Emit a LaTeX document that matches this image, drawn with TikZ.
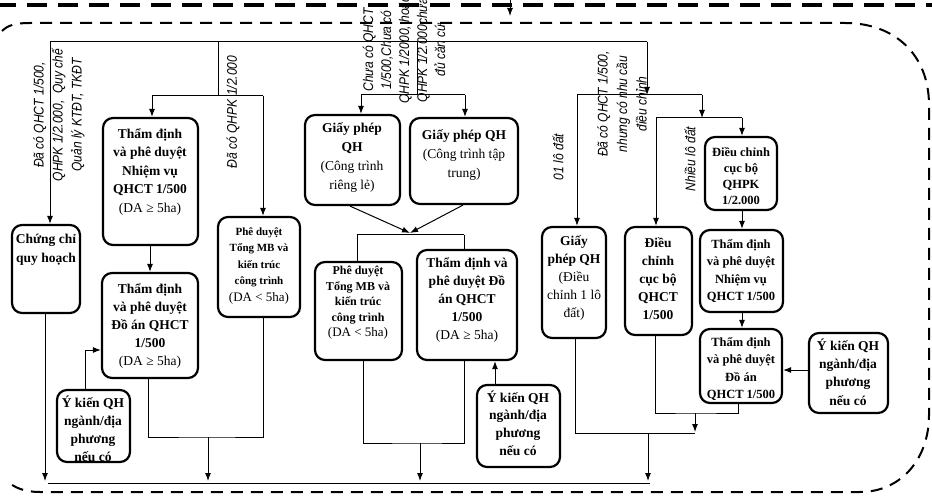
\documentclass[tikz,border=0pt]{standalone}
\usepackage{fontspec}
\setmainfont{Liberation Serif}
\setsansfont{Liberation Sans}
\newfontfamily\labfont[FakeStretch=0.86]{Liberation Sans}
\usetikzlibrary{arrows.meta,fit}
\begin{document}
\begin{tikzpicture}[x=1pt,y=-1pt]
\tikzset{
  box/.style={draw, line width=2.2pt, rounded corners=10pt, inner sep=0pt},
  conn/.style={line width=1pt},
  arr/.style={conn, -{Latex[length=8pt,width=6pt]}},
  tx/.style={align=center, inner sep=0pt},
  big/.style={tx, font=\fontsize{13.5}{18.5}\selectfont\bfseries},
  mid/.style={tx, font=\fontsize{12.5}{17.3}\selectfont\bfseries},
  small/.style={tx, font=\fontsize{11}{16.5}\selectfont\bfseries},
  lab/.style={align=center, inner sep=0pt, rotate=90, font=\fontsize{14}{19}\selectfont\labfont\itshape},
  thickdash/.style={line width=4pt, dash pattern=on 20pt off 11pt},
  framedash/.style={line width=2pt, dash pattern=on 12pt off 8pt},
}
\useasboundingbox (0,0) rectangle (932,497);

% outer frame
\draw[thickdash] (-4,5) -- (940,5);
\draw[framedash] (2,31) .. controls (8,25) and (16,23) .. (30,23) -- (845,23)
  .. controls (895,23) and (929,55) .. (929,105) -- (929,415)
  .. controls (929,460) and (900,492) .. (860,492) -- (40,492)
  .. controls (25,492) and (14,488) .. (6,480);
\coordinate (inTop) at (510,-5);
\coordinate (inEnd) at (510,16);
\draw[arr] (inTop) -- (inEnd);

% boxes
\node[box, fit={(12,225) (80,313)}] (b1) {};
\node[box, fit={(103,118) (198,245)}] (b2) {};
\node[box, fit={(102,273) (198,378)}] (b3) {};
\node[box, fit={(218,217) (300,317)}] (b4) {};
\node[box, fit={(305,115) (400,205)}] (b5) {};
\node[box, fit={(410,118) (518,204)}] (b6) {};
\node[box, fit={(315,262) (402,360)}] (b7) {};
\node[box, fit={(417,250) (517,360)}] (b8) {};
\node[box, fit={(477,385) (560,467)}] (b9) {};
\node[box, fit={(57,390) (130,462)}] (b10) {};
\node[box, fit={(542,227) (606,338)}] (b11) {};
\node[box, fit={(625,227) (692,335)}] (b12) {};
\node[box, fit={(705,137) (777,210)}] (b13) {};
\node[box, fit={(700,230) (783,312)}] (b14) {};
\node[box, fit={(700,329) (782,403)}] (b15) {};
\node[box, fit={(809,333) (888,413)}] (b16) {};

% box texts
\node[big] (t1) at (46,250) {Chứng chỉ\\quy hoạch};
\node[big] (t2) at (150,172) {Thẩm định\\và phê duyệt\\Nhiệm vụ\\QHCT 1/500\\\mdseries (DA ≥ 5ha)};
\node[big, font=\fontsize{13.5}{17.8}\selectfont\bfseries] (t3) at (150,326) {Thẩm định\\và phê duyệt\\Đồ án QHCT\\1/500\\\mdseries (DA ≥ 5ha)};
\node[small] (t4) at (259,266) {Phê duyệt\\Tổng MB và\\kiến trúc\\công trình\\\mdseries\fontsize{13}{16.5}\selectfont (DA < 5ha)};
\node[big, font=\fontsize{13.5}{19}\selectfont\bfseries] (t5) at (352,158) {Giấy phép\\QH\\\mdseries (Công trình\\\mdseries riêng lẻ)};
\node[big, font=\fontsize{13.5}{19}\selectfont\bfseries] (t6) at (464,155) {Giấy phép QH\\\mdseries (Công trình tập\\\mdseries trung)};
\node[tx, font=\fontsize{12}{15.5}\selectfont\bfseries] (t7) at (358,303) {Phê duyệt\\Tổng MB và\\kiến trúc\\công trình\\\mdseries\fontsize{13}{15.5}\selectfont (DA < 5ha)};
\node[big, font=\fontsize{13.5}{17.8}\selectfont\bfseries] (t8) at (467,300) {Thẩm định và\\phê duyệt Đồ\\án QHCT\\1/500\\\mdseries (DA ≥ 5ha)};
\node[big, font=\fontsize{13.5}{17.7}\selectfont\bfseries] (t9) at (518,423) {Ý kiến QH\\ngành/địa\\phương\\nếu có};
\node[big, font=\fontsize{13.5}{18}\selectfont\bfseries] (t10) at (93,429) {Ý kiến QH\\ngành/địa\\phương\\nếu có};
\node[big, font=\fontsize{13.5}{18.2}\selectfont\bfseries] (t11) at (574,278) {Giấy\\phép QH\\\mdseries (Điều\\\mdseries chỉnh 1 lô\\\mdseries đất)};
\node[big, font=\fontsize{13.5}{18}\selectfont\bfseries] (t12) at (658,279) {Điều\\chỉnh\\cục bộ\\QHCT\\1/500};
\node[tx, font=\fontsize{12.5}{16.3}\selectfont\bfseries] (t13) at (741,176) {Điều chỉnh\\cục bộ\\QHPK\\1/2.000};
\node[mid] (t14) at (741,271) {Thẩm định\\và phê duyệt\\Nhiệm vụ\\QHCT 1/500};
\node[mid] (t15) at (741,369) {Thẩm định\\và phê duyệt\\Đồ án\\QHCT 1/500};
\node[big, font=\fontsize{13.5}{18.3}\selectfont\bfseries] (t16) at (848,372) {Ý kiến QH\\ngành/địa\\phương\\nếu có};

% branch labels
\node[lab] (l1) at (59,115) {Đã có QHCT 1/500,\\QHPK 1/2.000,\ \ Quy chế\\Quản lý KTĐT, TKĐT};
\node[lab] (l2) at (233,112) {Đã có QHPK 1/2.000};
\node[lab, font=\fontsize{14}{18}\selectfont\labfont\itshape] (l3) at (404,50) {Chưa có QHCT\\1/500,Chưa có\\QHPK 1/2000, hoặc\\QHPK 1/2.000chưa\\đủ căn cứ};
\node[lab] (l4) at (558,157) {01 lô đất};
\node[lab, font=\fontsize{14}{19.5}\selectfont\labfont\itshape] (l5) at (622,104) {Đã có QHCT 1/500,\\nhưng có nhu cầu\\điều chỉnh};
\node[lab] (l6) at (690,159) {Nhiều lô đất};

% junction points
\coordinate (busL) at (50,42);
\coordinate (busA) at (218,42);
\coordinate (busB) at (417,42);
\coordinate (busR) at (647,42);
\coordinate (jA) at (218,96);
\coordinate (jAl) at (152,96);
\coordinate (jAr) at (263,96);
\coordinate (jB) at (417,95);
\coordinate (jBl) at (361,95);
\coordinate (jBr) at (465,95);
\coordinate (jR) at (647,95);
\coordinate (jRl) at (577,95);
\coordinate (jRr) at (702,95);
\coordinate (jS) at (702,118);
\coordinate (jSl) at (656,118);
\coordinate (jSr) at (742,118);
\coordinate (mrg) at (410,233);
\coordinate (mrgl) at (357,235);
\coordinate (mrgr) at (464,235);
\coordinate (lowL) at (208,437);
\coordinate (lowC) at (420,443);
\coordinate (lowR) at (695,413);
\coordinate (lowR2) at (648,433);
\coordinate (endL) at (45,481);
\coordinate (endA) at (208,481);
\coordinate (endC) at (420,481);
\coordinate (endR) at (648,481);
\coordinate (baseL) at (48,483);
\coordinate (baseR) at (650,483);

% top bus
\draw[conn] (busL) -- (busR);
\draw[arr] (busL) -- (busL |- b1.north);
\draw[conn] (busA) -- (jA);
\draw[conn] (jAl) -- (jAr);
\draw[arr] (jAl) -- (jAl |- b2.north);
\draw[arr] (jAr) -- (jAr |- b4.north);
\draw[conn] (busB) -- (jB);
\draw[conn] (jBl) -- (jBr);
\draw[arr] (jBl) -- (jBl |- b5.north);
\draw[arr] (jBr) -- (jBr |- b6.north);
\draw[arr] (busR) -- (jR);
\draw[conn] (jRl) -- (jRr);
\draw[arr] (jRl) -- (jRl |- b11.north);
\draw[arr] (jRr) -- (jS);
\draw[conn] (jSl) -- (jSr);
\draw[arr] (jSl) -- (jSl |- b12.north);
\draw[arr] (jSr) -- (jSr |- b13.north);

% left column
\draw[arr] (b2.south -| 150,0) -- (b3.north -| 150,0);
\draw[arr] (b10.north -| 85,0) |- (b3.west |- 0,350);
\draw[conn] (b3.south -| 148,0) |- (lowL) -| (b4.south -| 263,0);
\draw[arr] (lowL) -- (endA);
\draw[arr] (b1.south -| 45,0) -- (endL);

% centre column
\draw[arr] (b5.south -| 350,0) -- (mrg);
\draw[arr] (b6.south -| 463,0) -- (mrg);
\draw[conn] (mrgl) -- (mrgr);
\draw[conn] (mrgl) -- (mrgl |- b7.north);
\draw[conn] (mrgr) -- (mrgr |- b8.north);
\draw[arr] (b9.north -| 495,0) -- (b8.south -| 495,0);
\draw[conn] (b7.south -| 363,0) |- (lowC) -| (b8.south -| 464,0);
\draw[arr] (lowC) -- (endC);

% right column
\draw[arr] (b13.south -| 742,0) -- (b14.north -| 742,0);
\draw[arr] (b14.south -| 742,0) -- (b15.north -| 742,0);
\draw[arr] (b16.west |- 0,370) -- (b15.east |- 0,370);
\draw[conn] (b12.south -| 655,0) |- (lowR) -| (b15.south -| 738,0);
\draw[arr] (lowR) -- (695,432);
\draw[conn] (b11.south -| 575,0) |- (695,433);
\draw[arr] (lowR2) -- (endR);

% bottom collector
\draw[conn] (baseL) -- (baseR);
\end{tikzpicture}
\end{document}
